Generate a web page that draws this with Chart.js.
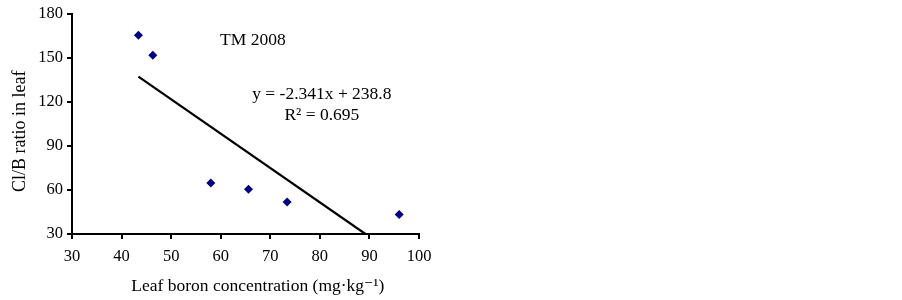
<!DOCTYPE html>
<html>
<head>
<meta charset="utf-8">
<script src="https://cdn.jsdelivr.net/npm/chart.js@4.4.1/dist/chart.umd.min.js"></script>
<style>
  html, body { margin: 0; padding: 0; background: #ffffff; }
  #wrap { width: 902px; height: 300px; }
</style>
</head>
<body>
<div id="wrap"><canvas id="chartCl"></canvas></div>
<script>
// leaf boron (mg/kg) vs Cl/B ratio, TM 2008
const boron = [43.4, 46.3, 58.0, 65.6, 73.4, 96.0];
const clbRatio = [165.5, 151.8, 64.8, 60.5, 51.8, 43.3];

// trend line as printed on the chart
const slope = -2.341;
const intercept = 238.8;
const trendX = [43.4, (intercept - 30) / -slope];

const xTicks = [30, 40, 50, 60, 70, 80, 90, 100];
const yTicks = [30, 60, 90, 120, 150, 180];

const xTitle = 'Leaf boron concentration (mg\u00B7kg\u207B\u00B9)';
const yTitle = 'Cl/B ratio in leaf';

const serif = '"Liberation Serif", "DejaVu Serif", serif';

// axis titles + equation labels (titles sit a bit off-centre in the original)
const notes = {
    id: 'notes',
    afterDatasetsDraw(chart) {
        const { ctx, scales: { x, y } } = chart;
        ctx.save();
        ctx.fillStyle = '#000';
        ctx.textAlign = 'center';
        ctx.textBaseline = 'middle';
        ctx.font = '17.5px ' + serif;
        ctx.fillText('TM 2008', x.getPixelForValue(66.5), y.getPixelForValue(161.8));
        ctx.fillText('y = -2.341x + 238.8', x.getPixelForValue(80.4), y.getPixelForValue(124.9));
        ctx.fillText('R\u00B2 = 0.695', x.getPixelForValue(80.4), y.getPixelForValue(110.7));

        ctx.font = '17.5px ' + serif;
        ctx.fillText(xTitle, x.getPixelForValue(67.5), 286);

        ctx.font = '18px ' + serif;
        ctx.translate(20, y.getPixelForValue(100));
        ctx.rotate(-Math.PI / 2);
        ctx.fillText(yTitle, 0, 0);
        ctx.restore();
    },
};

new Chart(document.getElementById('chartCl').getContext('2d'), {
    type: 'scatter',
    data: {
        datasets: [{
            data: boron.map((v, i) => ({ x: v, y: clbRatio[i] })),
            pointStyle: 'rectRot',
            pointRadius: 4.5,
            backgroundColor: '#000080',
            borderColor: '#000080',
            borderWidth: 0,
        }, {
            type: 'line',
            data: trendX.map(v => ({ x: v, y: slope * v + intercept })),
            borderColor: '#000',
            borderWidth: 2.2,
            pointRadius: 0,
            fill: false,
        }],
    },
    options: {
        responsive: true,
        maintainAspectRatio: false,
        animation: false,
        layout: { padding: { top: 11, right: 483, left: 0, bottom: 0 } },
        plugins: { legend: { display: false }, tooltip: { enabled: false } },
        scales: {
            x: {
                type: 'linear',
                min: 30,
                max: 100,
                afterBuildTicks: s => { s.ticks = xTicks.map(v => ({ value: v })); },
                afterFit: s => { s.height = 66; },
                border: { color: '#000', width: 2 },
                grid: { drawOnChartArea: false, color: '#000', lineWidth: 2, tickLength: 5 },
                ticks: { color: '#000', font: { family: serif, size: 16.5 }, padding: 8 },
            },
            y: {
                min: 30,
                max: 180,
                afterBuildTicks: s => { s.ticks = yTicks.map(v => ({ value: v })); },
                afterFit: s => { s.width = 72; },
                border: { color: '#000', width: 2 },
                grid: { drawOnChartArea: false, color: '#000', lineWidth: 2, tickLength: 5 },
                ticks: { color: '#000', font: { family: serif, size: 16.5 }, padding: 4 },
            },
        },
    },
    plugins: [notes],
});
</script>
</body>
</html>
